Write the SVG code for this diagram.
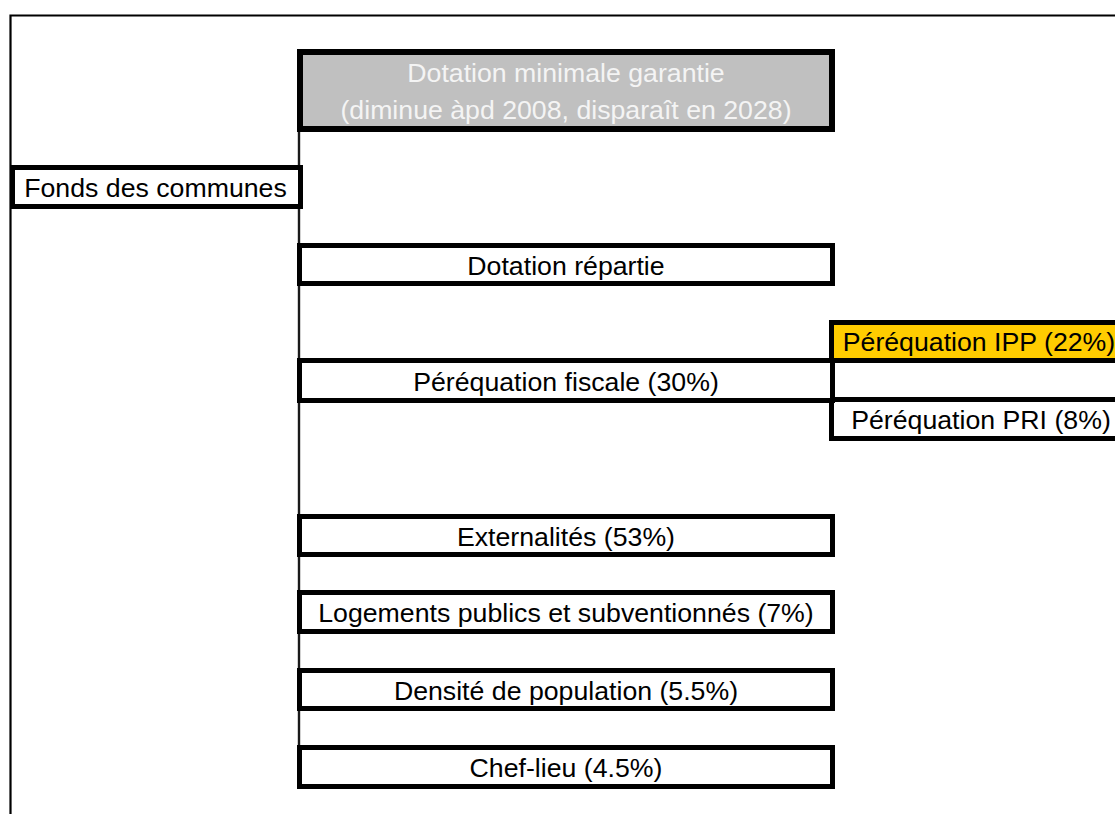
<svg xmlns="http://www.w3.org/2000/svg" width="1115" height="814" viewBox="0 0 1115 814">
<style>
  .box { fill: #ffffff; stroke: #000000; stroke-width: 5; }
  .gray { fill: #c0c0c0; stroke: #000000; stroke-width: 6; }
  .ipp { fill: #ffcc00; stroke: #000000; stroke-width: 5; }
  .t { font-family: "Liberation Sans", Arial, sans-serif; font-size: 26.7px; fill: #000000; text-anchor: middle; }
  .tw { font-family: "Liberation Sans", Arial, sans-serif; font-size: 26.7px; fill: #f4f4f4; text-anchor: middle; }
  .conn { stroke: #1a1a1a; stroke-width: 2.4; fill: none; }
</style>
<rect x="0" y="0" width="1115" height="814" fill="#ffffff"/>
<path d="M10.5,814 V15.5 H1115" fill="none" stroke="#000000" stroke-width="2.2"/>
<g id="connectors">
  <line class="conn" x1="299" y1="130" x2="299" y2="747"/>
</g>
<g id="node-dotation-minimale">
  <rect class="gray" x="300" y="52" width="532" height="77"/>
  <text class="tw" x="566" y="82">Dotation minimale garantie</text>
  <text class="tw" x="566" y="119">(diminue àpd 2008, disparaît en 2028)</text>
</g>
<g id="node-fonds">
  <rect class="box" x="12.5" y="167.5" width="288" height="39"/>
  <text class="t" x="155.5" y="197">Fonds des communes</text>
</g>
<g id="node-dotation-repartie">
  <rect class="box" x="299.5" y="245.5" width="533" height="38"/>
  <text class="t" x="566" y="275">Dotation répartie</text>
</g>
<g id="node-ipp">
  <rect class="ipp" x="831.5" y="322.5" width="300" height="38"/>
  <text class="t" x="979" y="351">Péréquation IPP (22%)</text>
</g>
<g id="node-pri">
  <rect class="box" x="831.5" y="399.5" width="300" height="39"/>
  <text class="t" x="981" y="429">Péréquation PRI (8%)</text>
</g>
<g id="node-fiscale">
  <rect class="box" x="299.5" y="360.5" width="533" height="40"/>
  <text class="t" x="566" y="391">Péréquation fiscale (30%)</text>
</g>
<g id="node-externalites">
  <rect class="box" x="299.5" y="516.5" width="533" height="38"/>
  <text class="t" x="566" y="546">Externalités (53%)</text>
</g>
<g id="node-logements">
  <rect class="box" x="299.5" y="592.5" width="533" height="39"/>
  <text class="t" x="566" y="622">Logements publics et subventionnés (7%)</text>
</g>
<g id="node-densite">
  <rect class="box" x="299.5" y="670.5" width="533" height="38"/>
  <text class="t" x="566" y="700">Densité de population (5.5%)</text>
</g>
<g id="node-chef-lieu">
  <rect class="box" x="299.5" y="747.5" width="533" height="39"/>
  <text class="t" x="566" y="777">Chef-lieu (4.5%)</text>
</g>
</svg>
